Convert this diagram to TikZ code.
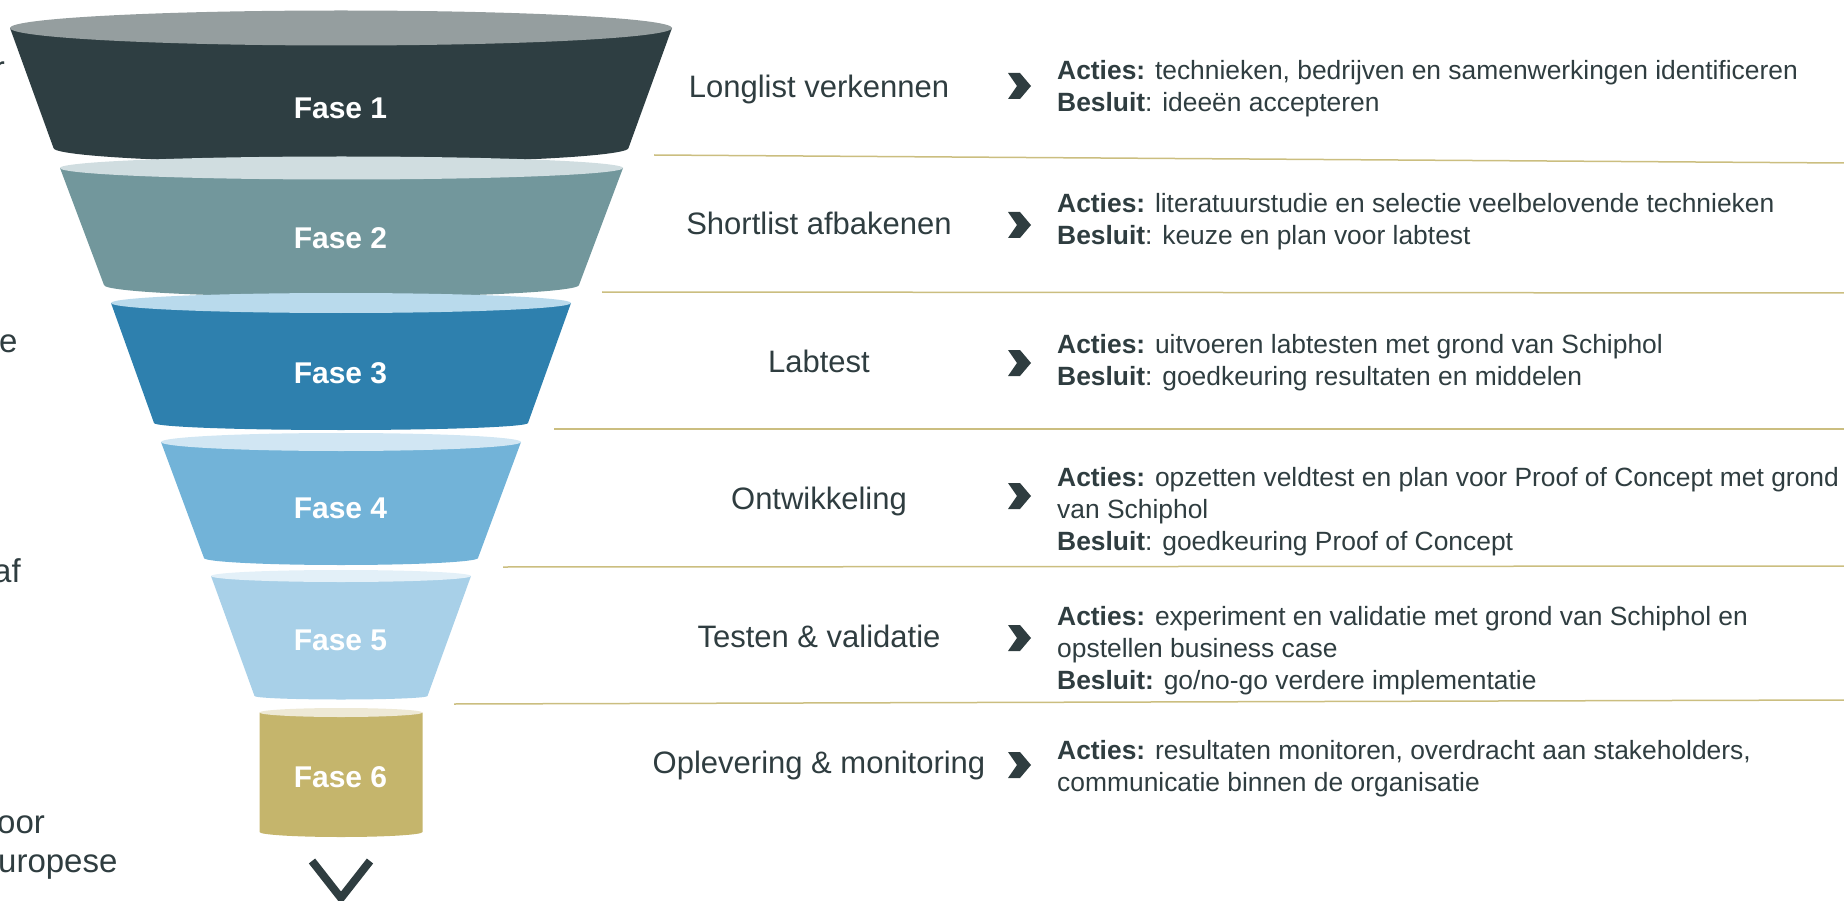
\documentclass[tikz,border=0pt]{standalone}
\usepackage{fontspec}
\setmainfont{Liberation Sans}
\usetikzlibrary{positioning}

\definecolor{txt}{HTML}{2F3D40}
\definecolor{goud}{HTML}{CBBE80}
\definecolor{f1}{HTML}{2E3E42}\definecolor{f1top}{HTML}{959E9F}
\definecolor{f2}{HTML}{72979C}\definecolor{f2top}{HTML}{D0DDE0}
\definecolor{f3}{HTML}{2E80AE}\definecolor{f3top}{HTML}{B9DAEC}
\definecolor{f4}{HTML}{72B3D8}\definecolor{f4top}{HTML}{D1E6F3}
\definecolor{f5}{HTML}{A8D0E8}\definecolor{f5top}{HTML}{E3F0F8}
\definecolor{f6}{HTML}{C5B56C}\definecolor{f6top}{HTML}{EEE9D6}

\tikzset{
  fase/.style={text=white, font=\fontsize{30}{36}\selectfont\bfseries, anchor=base, inner sep=0},
  stap/.style={text=txt, font=\fontsize{31}{37}\selectfont, anchor=base, inner sep=0},
  info/.style={text=txt, font=\fontsize{26.4}{32}\selectfont, align=left, anchor=base west, inner sep=0},
  rest/.style={text=txt, font=\fontsize{33}{39}\selectfont, anchor=base west, inner sep=0},
  scheiding/.style={draw=goud, line width=1.5pt},
  pijl/.pic={\fill[txt] (-11.5,13) -- (0.5,13) -- (11.5,0) -- (0.5,-13) -- (-11.5,-13) -- (-2.5,0) -- cycle;}
}

\begin{document}
\begin{tikzpicture}[x=1pt, y=1pt]
    \useasboundingbox (0,0) rectangle (1844,-901);
    \clip (0,0) rectangle (1844,-901);

    % funnel
    \fill[f1] (10,-28) -- (53.5,-148) arc[start angle=180, end angle=360, x radius=287.5, y radius=15] -- (672,-28) -- cycle;
    \fill[f1top] (341,-28) ellipse[x radius=331, y radius=17.5];
    \fill[f2] (60,-168) -- (104,-285) arc[start angle=180, end angle=360, x radius=237.5, y radius=12] -- (623,-168) -- cycle;
    \fill[f2top] (341.5,-168) ellipse[x radius=281.5, y radius=11.5];
    \fill[f3] (111,-303) -- (154,-423) arc[start angle=180, end angle=360, x radius=187, y radius=7] -- (571,-303) -- cycle;
    \fill[f3top] (341,-303) ellipse[x radius=230, y radius=10];
    \fill[f4] (161,-442) -- (204,-558) arc[start angle=180, end angle=360, x radius=137, y radius=7] -- (521,-442) -- cycle;
    \fill[f4top] (341,-442) ellipse[x radius=180, y radius=9];
    \fill[f5] (211,-576) -- (254.5,-696) arc[start angle=180, end angle=360, x radius=86.5, y radius=3.5] -- (471,-576) -- cycle;
    \fill[f5top] (341,-576) ellipse[x radius=130, y radius=6];
    \fill[f6] (259.5,-712.5) -- (259.5,-832) arc[start angle=180, end angle=360, x radius=81.5, y radius=5] -- (422.5,-712.5) -- cycle;
    \fill[f6top] (341,-712.5) ellipse[x radius=81.5, y radius=4.5];

    \node[fase] (fase1) at (340.5,-119) {Fase 1};
    \node[fase] (fase2) at (340.5,-249) {Fase 2};
    \node[fase] (fase3) at (340.5,-383) {Fase 3};
    \node[fase] (fase4) at (340.5,-518) {Fase 4};
    \node[fase] (fase5) at (340.5,-650) {Fase 5};
    \node[fase] (fase6) at (340.5,-787) {Fase 6};

    \draw[txt, line width=8pt] (312,-861) -- (341,-898) -- (370,-861);

    % cut-off text on the left
    \node[rest, anchor=base east] (rest1) at (5,-80) {r};
    \node[rest] (rest2) at (-1,-352) {e};
    \node[rest] (rest3) at (-7,-582) {af};
    \node[rest] (rest4) at (-3,-833) {oor};
    \node[rest] (rest5) at (-2,-872) {uropese};

    % separators
    \draw[scheiding] (654,-155) -- (1844,-163);
    \draw[scheiding] (602,-292) -- (1844,-293);
    \draw[scheiding] (554,-429) -- (1844,-429);
    \draw[scheiding] (503,-567) -- (1844,-566);
    \draw[scheiding] (454,-704) -- (1844,-700);

    % steps
    \node[stap] (stap1) at (819,-98) {Longlist verkennen};
    \node[stap] (stap2) at (819,-235) {Shortlist afbakenen};
    \node[stap] (stap3) at (819,-372) {Labtest};
    \node[stap] (stap4) at (819,-509) {Ontwikkeling};
    \node[stap] (stap5) at (819,-647) {Testen \& validatie};
    \node[stap] (stap6) at (819,-773) {Oplevering \& monitoring};

    \pic at (1019.5,-86) {pijl};
    \pic at (1019.5,-225) {pijl};
    \pic at (1019.5,-363) {pijl};
    \pic at (1019.5,-496) {pijl};
    \pic at (1019.5,-638) {pijl};
    \pic at (1019.5,-765) {pijl};

    % base = baseline of the last line
    \node[info] (info1) at (1057,-112) {\textbf{Acties:} technieken, bedrijven en samenwerkingen identificeren\\\textbf{Besluit}: ideeën accepteren};
    \node[info] (info2) at (1057,-245) {\textbf{Acties:} literatuurstudie en selectie veelbelovende technieken\\\textbf{Besluit}: keuze en plan voor labtest};
    \node[info] (info3) at (1057,-385) {\textbf{Acties:} uitvoeren labtesten met grond van Schiphol\\\textbf{Besluit}: goedkeuring resultaten en middelen};
    \node[info] (info4) at (1057,-550) {\textbf{Acties:} opzetten veldtest en plan voor Proof of Concept met grond\\van Schiphol\\\textbf{Besluit}: goedkeuring Proof of Concept};
    \node[info] (info5) at (1057,-689) {\textbf{Acties:} experiment en validatie met grond van Schiphol en\\opstellen business case\\\textbf{Besluit:} go/no-go verdere implementatie};
    \node[info] (info6) at (1057,-791) {\textbf{Acties:} resultaten monitoren, overdracht aan stakeholders,\\communicatie binnen de organisatie};
\end{tikzpicture}
\end{document}
